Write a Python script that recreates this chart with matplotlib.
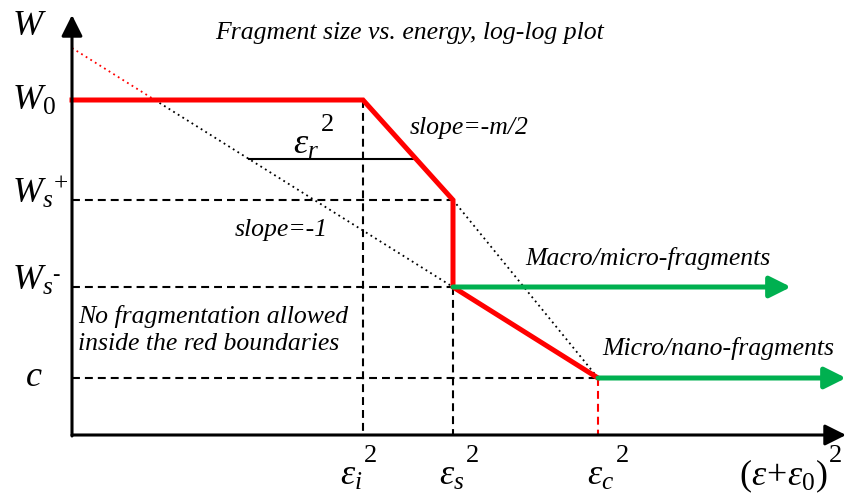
import numpy as np
import matplotlib
matplotlib.use("Agg")
import matplotlib.pyplot as plt

plt.rcParams['font.family'] = ['Liberation Serif', 'DejaVu Serif']
plt.rcParams['mathtext.fontset'] = 'custom'
plt.rcParams['mathtext.rm'] = 'Liberation Serif'
plt.rcParams['mathtext.it'] = 'Liberation Serif:italic'

# break points of the boundary (x: energy, y: fragment size)
eps_i, eps_s, eps_c = 291, 381, 526
W0, Ws_plus, Ws_minus, c = 335, 235, 148, 57
w_top = 387          # intercept of the slope=-1 line
x_end, y_end = 774, 420
macro_end = 719

boundary_x = [0, eps_i, eps_s, eps_s, eps_c]
boundary_y = [W0, W0, Ws_plus, Ws_minus, c]

RED = '#ff0000'
GREEN = '#00b050'

fig = plt.figure(figsize=(8.46, 4.96), dpi=100)
ax = fig.add_axes([0, 0, 1, 1])
ax.set_xlim(-72, 774)
ax.set_ylim(-61, 435)
ax.axis('off')

dash = (0, (3.8, 2.4))
dots = (0, (1, 2))

# axes with arrow heads
axis_arrow = dict(arrowstyle='-|>', lw=2.2, color='k', mutation_scale=32,
                  shrinkA=0, shrinkB=0)
ax.annotate('', xy=(x_end, 0), xytext=(0, 0), arrowprops=axis_arrow)
ax.annotate('', xy=(0, y_end), xytext=(0, -1), arrowprops=axis_arrow)

# guide lines
ax.plot([0, eps_s], [Ws_plus, Ws_plus], color='k', lw=1.5, ls=dash)
ax.plot([0, eps_s], [Ws_minus, Ws_minus], color='k', lw=1.5, ls=dash)
ax.plot([0, eps_c], [c, c], color='k', lw=1.5, ls=dash)
ax.plot([eps_i, eps_i], [W0, 0], color='k', lw=1.5, ls=dash)
ax.plot([eps_s, eps_s], [Ws_minus, 0], color='k', lw=1.5, ls=dash)
ax.plot([eps_c, eps_c], [c, 0], color=RED, lw=1.5, ls=dash)

# slope=-1 line, red above W0
k1 = (w_top - Ws_minus) / eps_s
x_cross = (w_top - W0) / k1
ax.plot([0, x_cross], [w_top, W0], color=RED, lw=1.3, ls=dots)
ax.plot([x_cross, eps_s], [W0, Ws_minus], color='k', lw=1.3, ls=dots)

# slope=-m/2 extension
ax.plot([eps_s, eps_c], [Ws_plus, c], color='k', lw=1.3, ls=dots)

# eps_r width between the two slopes
y_r = 276
x_r0 = (w_top - y_r) / k1
x_r1 = eps_i + (W0 - y_r) / (W0 - Ws_plus) * (eps_s - eps_i)
ax.plot([x_r0, x_r1], [y_r, y_r], color='k', lw=1.5)

# fragment regimes
green_arrow = dict(arrowstyle='-|>', lw=3.6, color=GREEN, mutation_scale=32,
                   shrinkA=0, shrinkB=0)
ax.annotate('', xy=(macro_end, Ws_minus), xytext=(eps_s, Ws_minus), arrowprops=green_arrow)
ax.annotate('', xy=(x_end, c), xytext=(eps_c, c), arrowprops=green_arrow)

ax.plot(boundary_x, boundary_y, color=RED, lw=3.6, solid_joinstyle='miter')

# labels
big = 26
sup = 19


def squared(x, y, base):
    # base symbol, then a large "2" raised right after it
    t = ax.text(x, y, base, fontsize=big, ha='left', va='baseline')
    ax.annotate('2', xy=(1, y + 23), xycoords=(t, 'data'), xytext=(1, 0),
                textcoords='offset points', fontsize=sup, ha='left', va='baseline')


ax.text(-60, 400, '$W$', fontsize=big, ha='left', va='baseline')
ax.text(-60, W0 - 10, '$W_{\\mathrm{0}}$', fontsize=big, ha='left', va='baseline')
ax.text(-60, Ws_plus - 3, '$W_s{}^{+}$', fontsize=big, ha='left', va='baseline')
ax.text(-60, Ws_minus - 3, '$W_s$', fontsize=big, ha='left', va='baseline')
ax.text(-16, 160, '-', fontsize=16, ha='center', va='center')
ax.text(-38, c, '$c$', fontsize=big, ha='center', va='center')

squared(268, -50, '$\\varepsilon_i$')
squared(367, -50, '$\\varepsilon_s$')
squared(515, -50, '$\\varepsilon_c$')
squared(667, -50, '$(\\varepsilon\\!+\\!\\varepsilon_{\\mathrm{0}})$')
squared(221, 281, '$\\varepsilon_r$')

small = 18.5
ax.text(338, 402, 'Fragment size vs. energy, log-log plot', fontsize=small, style='italic',
        ha='center', va='center')
ax.text(338, 307, 'slope=-m/2', fontsize=small, style='italic', ha='left', va='center')
ax.text(163, 205, 'slope=-1', fontsize=small, style='italic', ha='left', va='center')
ax.text(453, 177, 'Macro/micro-fragments', fontsize=small, style='italic', ha='left', va='center')
ax.text(530, 86, 'Micro/nano-fragments', fontsize=small, style='italic', ha='left', va='center')
ax.text(6, 105, 'No fragmentation allowed\ninside the red boundaries', fontsize=small,
        style='italic', ha='left', va='center', linespacing=1.35)

fig.savefig('out.png', dpi=100)
